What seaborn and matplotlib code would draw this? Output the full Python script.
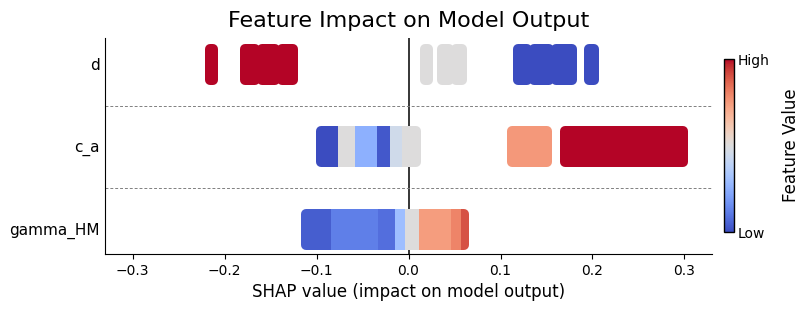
import numpy as np
import pandas as pd
import seaborn as sns
import matplotlib.pyplot as plt
from matplotlib.cm import ScalarMappable
from matplotlib.colors import Normalize

features = ['gamma_HM', 'c_a', 'd']

# clusters of SHAP values: lowest / highest value, feature value (0 = low, 1 = high)
d_lo = [-0.2159, -0.1779, -0.1589, -0.1372, 0.0181, 0.0366, 0.0516, 0.1193, 0.1362, 0.1600, 0.1964]
d_hi = [-0.2127, -0.1665, -0.1448, -0.1259, 0.0209, 0.0440, 0.0583, 0.1286, 0.1524, 0.1779, 0.2018]
d_val = [1.0, 1.0, 1.0, 1.0, 0.5, 0.5, 0.5, 0.0, 0.0, 0.0, 0.0]

ca_lo = [-0.0947, -0.0770, -0.0586, -0.0347, -0.0206, -0.0076, 0.1121, 0.1703]
ca_hi = [-0.0770, -0.0586, -0.0347, -0.0206, -0.0076, 0.0084, 0.1500, 0.2987]
ca_val = [0.0, 0.5, 0.25, 0.03, 0.45, 0.5, 0.75, 1.0]

gm_lo = [-0.1110, -0.0839, -0.0333, -0.0152, -0.0043, 0.0119, 0.0463, 0.0575]
gm_hi = [-0.0839, -0.0333, -0.0152, -0.0043, 0.0119, 0.0463, 0.0575, 0.0608]
gm_val = [0.04, 0.12, 0.08, 0.3, 0.5, 0.74, 0.8, 0.9]

clusters = pd.concat([
    pd.DataFrame({'feature': 'd', 'lo': d_lo, 'hi': d_hi, 'value': d_val}),
    pd.DataFrame({'feature': 'c_a', 'lo': ca_lo, 'hi': ca_hi, 'value': ca_val}),
    pd.DataFrame({'feature': 'gamma_HM', 'lo': gm_lo, 'hi': gm_hi, 'value': gm_val}),
], ignore_index=True)
clusters['y'] = clusters['feature'].map(features.index)

cmap = sns.color_palette('coolwarm', as_cmap=True)
clusters['color'] = [cmap(v) for v in clusters['value']]

fig = plt.figure(figsize=(8.11, 3.11), dpi=100)
ax = fig.add_axes([0.1295, 0.1833, 0.7485, 0.6945])

ax.axvline(0, color='black', lw=1.1, zorder=1)
for sep in [0.5, 1.5]:
    ax.axhline(sep, color='grey', ls='--', lw=0.7, dashes=(3, 2), zorder=1)

# dots of the swarm have ~5px radius: rounded outline first, then straight-edged cores
ax.barh(clusters['y'], clusters['hi'] - clusters['lo'], left=clusters['lo'], height=0.376,
        color=clusters['color'], edgecolor=clusters['color'], linewidth=7.2,
        joinstyle='round', zorder=2)
ax.barh(clusters['y'], clusters['hi'] - clusters['lo'], left=clusters['lo'], height=0.497,
        color=clusters['color'], linewidth=0, zorder=3)

ax.set_yticks(range(len(features)))
ax.set_yticklabels(features, fontsize=11)
ax.tick_params(axis='y', length=0, pad=4)
ax.tick_params(axis='x', labelsize=10)
ax.set_xlim(-0.33, 0.33)
ax.set_ylim(-0.3, 2.32)
ax.set_xticks([-0.3, -0.2, -0.1, 0.0, 0.1, 0.2, 0.3])
sns.despine(ax=ax)
ax.set_xlabel('SHAP value (impact on model output)', fontsize=12)
ax.set_title('Feature Impact on Model Output', fontsize=16, pad=8)

cax = fig.add_axes([0.8927, 0.254, 0.0123, 0.556])
cbar = fig.colorbar(ScalarMappable(norm=Normalize(0, 1), cmap=cmap), cax=cax, ticks=[0, 1])
cbar.set_ticklabels(['Low', 'High'])
cbar.ax.tick_params(length=0, labelsize=10, pad=3)
cbar.outline.set_linewidth(1)
cbar.set_label('Feature Value', fontsize=12, labelpad=8.5)

fig.savefig('out.png', dpi=100)
